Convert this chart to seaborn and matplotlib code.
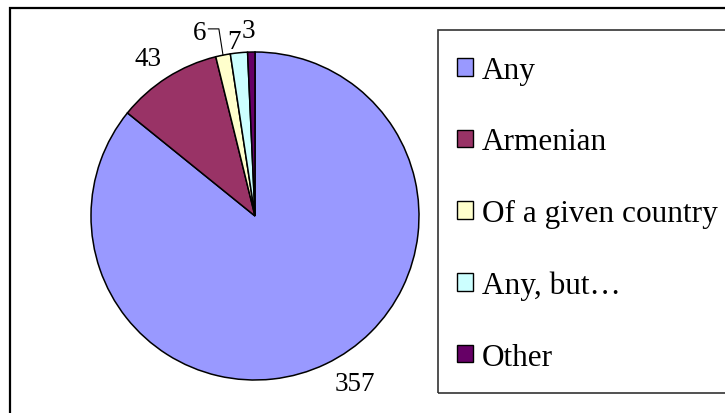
import matplotlib
matplotlib.use("Agg")
import matplotlib.pyplot as plt
from matplotlib.patches import Rectangle
import numpy as np
import seaborn as sns

categories = ["Any", "Armenian", "Of a given country", "Any, but\u2026", "Other"]
counts = [357, 43, 6, 7, 3]
colors = ["#9999FF", "#993366", "#FFFFCC", "#CCFFFF", "#660066"]

# label placement tweaks (angle nudge in degrees, radius as fraction of pie radius)
label_nudge = [5.3, 1.9, 5.4, 1.3, 0.6]
label_radius = [1.19, 1.16, 1.17, 1.07, 1.13]

sns.set_theme(style="white")
plt.rcParams["font.family"] = ["Liberation Serif", "DejaVu Serif"]
plt.rcParams["text.color"] = "black"

fig = plt.figure(figsize=(7.25, 4.14), dpi=100)
W, H = 725, 414

def fx(px):
    return px / W

def fy(py):
    return 1 - py / H

# outer chart frame (runs past the right and bottom edges)
fig.patches.append(Rectangle((fx(10), fy(430)), fx(740) - fx(10), fy(9) - fy(430),
                             transform=fig.transFigure, fill=False,
                             edgecolor="black", linewidth=1.6))

# legend frame
fig.patches.append(Rectangle((fx(438), fy(394)), fx(760) - fx(438), fy(31) - fy(394),
                             transform=fig.transFigure, fill=False,
                             edgecolor="#333333", linewidth=1.2))

ax = fig.add_axes([fx(91), fy(381), fx(328), 328 / H])
wedges, _ = ax.pie(counts, colors=sns.color_palette(colors), startangle=90,
                   counterclock=False,
                   wedgeprops=dict(edgecolor="black", linewidth=1.1))
ax.set_xlim(-1, 1)
ax.set_ylim(-1, 1)
ax.axis("off")

for w, n, nudge, r in zip(wedges, counts, label_nudge, label_radius):
    mid = np.deg2rad((w.theta1 + w.theta2) / 2 + nudge)
    x, y = r * np.cos(mid), r * np.sin(mid)
    ax.text(x, y, str(n), ha="center", va="center", fontsize=19.5,
            color="black", clip_on=False)
    if n == 6:
        emid = np.deg2rad((w.theta1 + w.theta2) / 2)
        ex, ey = np.cos(emid), np.sin(emid)
        ax.plot([x + 0.05, x + 0.115, ex], [y + 0.02, y + 0.02, ey],
                color="black", linewidth=0.8, clip_on=False)

leg = fig.legend(wedges, categories, loc="upper left",
                 bbox_to_anchor=(fx(457), fy(57)), frameon=False,
                 fontsize=22.5, handlelength=0.5, handleheight=0.5,
                 handletextpad=0.3, labelspacing=1.36, borderaxespad=0,
                 borderpad=0, labelcolor="black")
for h in leg.legend_handles:
    h.set_edgecolor("black")
    h.set_linewidth(1.0)

fig.savefig("out.png", dpi=100)
plt.close(fig)
